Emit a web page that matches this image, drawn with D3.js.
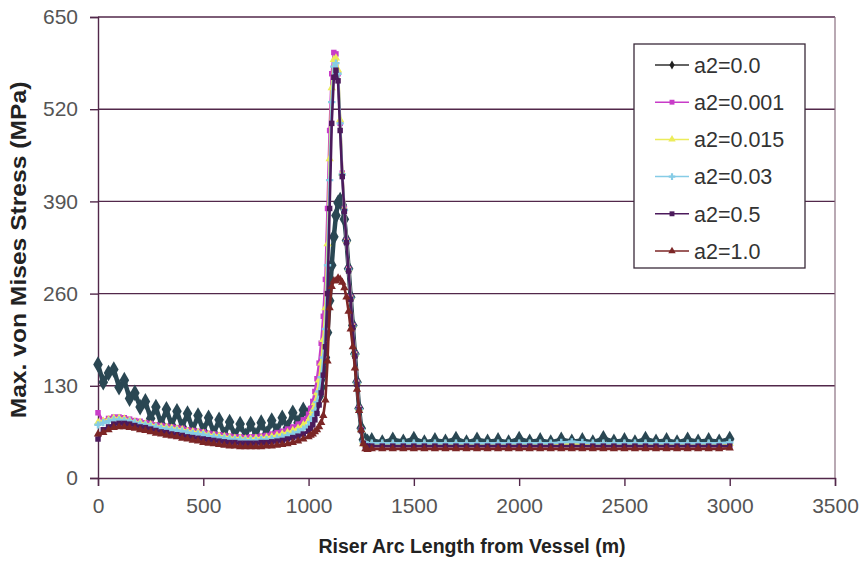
<!DOCTYPE html>
<html><head><meta charset="utf-8">
<script src="https://cdn.jsdelivr.net/npm/d3@7"></script>
<style>
html,body{margin:0;padding:0;background:#fff;}
svg{display:block;}
text{font-family:"Liberation Sans",Arial,sans-serif;}
.ttl{font-weight:bold;}
</style></head>
<body>
<svg id="chart" width="859" height="563"></svg>
<script>
// Riser arc length positions (m)
const arcLength = [
  0,25,50,75,100,125,150,175,200,225,250,275,300,325,350,375,400,425,450,475,500,525,550,575,600,625,650,675,700,725,750,775,800,825,850,875,900,925,950,975,1000,
  1010,1020,1030,1040,1050,1060,1070,1080,1090,1100,1110,1120,1130,1140,1150,1160,1170,1180,1190,1200,1210,1220,1230,1240,1250,1260,1270,1280,
  1300,1350,1400,1450,1500,1550,1600,1650,1700,1750,1800,1850,1900,1950,2000,2050,2100,2150,2200,2250,2300,2350,2400,2450,2500,2550,2600,2650,2700,2750,2800,2850,2900,2950,3000
];
const seriesNames = ["a2=0.0","a2=0.001","a2=0.015","a2=0.03","a2=0.5","a2=1.0"];
const stress_a0 = [
  160,135,148,153,128,138,112,120,100,108,84,100,76,97,74,94,72,91,68,88,66,85,63,82,61,79,59,76,59,76,60,78,62,81,66,85,71,92,78,96,90,
  92,98,100,105,115,128,145,170,205,250,300,340,370,388,392,385,365,335,295,255,215,175,135,98,70,54,53,51,
  53,50,54,51,55,50,53,51,55,50,54,51,53,50,55,51,53,50,54,51,53,50,56,51,53,50,55,51,53,50,54,51,53,51,55
];
const stress_a0001 = [
  92,80,84,86,86,85,83,81,80,78,77,75,74,73,72,71,70,68,67,66,65,63,62,61,60,59,58,58,57,58,58,59,60,62,64,66,69,72,76,82,90,
  98,108,122,140,162,190,228,280,380,490,570,600,598,570,500,430,380,335,295,255,215,175,135,98,68,50,46,46,
  47,47,47,46,47,47,47,47,46,47,47,47,47,46,47,47,47,47,46,47,47,47,47,46,47,47,47,47,46,47,47,47,47,47,48
];
const stress_a0015 = [
  78,80,82,84,84,83,81,79,78,76,75,73,72,71,70,69,68,66,65,64,63,61,60,59,58,57,56,56,55,55,56,56,57,58,60,62,64,67,70,75,81,
  87,95,106,120,138,162,195,240,330,450,550,590,592,575,505,430,380,335,295,255,215,175,135,98,68,51,47,46,
  48,48,48,48,48,48,48,48,48,48,48,48,48,48,48,48,48,48,48,48,48,48,48,48,48,48,48,48,48,48,48,48,48,48,49
];
const stress_a003 = [
  75,78,80,82,82,81,80,78,76,75,73,72,70,69,68,67,66,64,63,62,61,59,58,57,56,55,54,54,53,53,53,54,54,55,56,58,60,62,65,69,74,
  79,86,95,107,122,142,170,210,300,420,530,580,585,570,500,428,378,334,294,254,214,174,134,97,68,51,47,47,
  49,49,49,49,49,49,49,49,49,49,49,49,49,49,49,49,49,49,50,51,50,49,49,49,49,49,49,49,49,49,49,49,49,49,50
];
const stress_a05 = [
  55,68,72,76,77,77,76,74,72,71,69,67,65,64,62,61,60,58,57,56,55,54,53,52,51,50,50,49,49,49,49,50,50,51,52,53,55,57,59,62,66,
  70,75,82,91,103,120,145,185,260,380,500,565,575,560,490,425,376,332,292,252,212,172,132,96,67,49,45,45,
  45,45,45,45,45,45,45,45,45,45,45,45,45,45,45,45,45,45,45,45,45,45,45,45,45,45,45,45,45,45,45,45,45,45,45
];
const stress_a10 = [
  62,64,68,71,72,72,71,70,68,67,65,63,62,60,59,58,56,55,53,52,50,49,48,47,46,45,45,44,44,44,44,44,45,45,46,47,48,50,52,55,58,
  60,62,65,68,72,78,88,110,165,240,270,278,278,282,280,276,268,255,235,210,185,155,125,95,68,48,41,40,
  41,41,41,41,41,41,41,41,41,41,41,41,41,41,41,41,41,41,41,41,41,41,41,41,41,41,41,41,41,41,41,41,41,41,42
];
const seriesValues = [stress_a0, stress_a0001, stress_a0015, stress_a003, stress_a05, stress_a10];
const seriesColors = ["#2a4753","#c83cc8","#ecec5a","#86cce6","#4c1a5c","#7c2626"];
const xTicks = [0,500,1000,1500,2000,2500,3000,3500];
const yTicks = [0,130,260,390,520,650];

const svg = d3.select("#chart");
const L = 98, R = 835, T = 17, B = 478;
const x = d3.scaleLinear().domain([0,3500]).range([L,R]);
const y = d3.scaleLinear().domain([0,650]).range([B,T]);
const gridCol = "#52284a";

// gridlines
svg.append("g").selectAll("line").data(yTicks.filter(d=>d>0)).join("line")
  .attr("x1",L).attr("x2",R).attr("y1",d=>y(d)).attr("y2",d=>y(d))
  .attr("stroke",gridCol).attr("stroke-width",1.4);
// right border
svg.append("line").attr("x1",R).attr("x2",R).attr("y1",T).attr("y2",B)
  .attr("stroke","#8a7080").attr("stroke-width",1.2);

// axes
const xAxis = svg.append("g").attr("transform",`translate(0,${B})`)
  .call(d3.axisBottom(x).tickValues(xTicks).tickSize(8).tickPadding(12).tickFormat(d3.format("d")));
const yAxis = svg.append("g").attr("transform",`translate(${L},0)`)
  .call(d3.axisLeft(y).tickValues(yTicks).tickSize(8).tickPadding(12).tickFormat(d3.format("d")));
[xAxis,yAxis].forEach(g=>{
  g.select(".domain").attr("stroke",gridCol).attr("stroke-width",1.4);
  g.selectAll(".tick line").attr("stroke",gridCol).attr("stroke-width",1.4);
  g.selectAll(".tick text").attr("fill","#555").attr("font-size",21);
});

// series
const symbols = [d3.symbolDiamond, d3.symbolSquare, d3.symbolTriangle, d3.symbolCross, d3.symbolSquare, d3.symbolTriangle];
const line = d3.line().x(d=>x(d[0])).y(d=>y(d[1]));
seriesValues.forEach((vals,i)=>{
  const pts = arcLength.map((a,k)=>[a, vals[k]]);
  const g = svg.append("g");
  g.append("path").datum(pts).attr("d",line).attr("fill","none")
    .attr("stroke",seriesColors[i]).attr("stroke-width", i===0?4.5:2.6).attr("stroke-linejoin","round");
  g.selectAll("path.m").data(pts).join("path").attr("class","m")
    .attr("transform",d=>`translate(${x(d[0])},${y(d[1])})`)
    .attr("d",d3.symbol().type(symbols[i]).size(i===0?80:30))
    .attr("fill",seriesColors[i]);
});

// legend
const lg = svg.append("g");
lg.append("rect").attr("x",634).attr("y",44).attr("width",171).attr("height",224)
  .attr("fill","#fff").attr("stroke","#3a2a3a").attr("stroke-width",1.3);
const legendColors = ["#202020","#c83cc8","#ecec5a","#86cce6","#4c1a5c","#7c2626"];
seriesNames.forEach((n,i)=>{
  const cy = 65 + i*37.2;
  lg.append("line").attr("x1",655).attr("x2",689).attr("y1",cy).attr("y2",cy)
    .attr("stroke",i===0?"#303030":legendColors[i]).attr("stroke-width",1.5);
  lg.append("path").attr("transform",`translate(672,${cy})`)
    .attr("d",d3.symbol().type(symbols[i]).size(24)).attr("fill",legendColors[i]);
  lg.append("text").attr("x",694).attr("y",cy).attr("dy","0.36em")
    .attr("font-size",21.5).attr("fill","#333").text(n);
});

// axis titles
svg.append("text").attr("class","ttl").attr("x",472).attr("y",553)
  .attr("text-anchor","middle").attr("font-size",19.5).attr("fill","#222")
  .text("Riser Arc Length from Vessel (m)");
svg.append("text").attr("class","ttl").attr("transform","translate(26,250) scale(1,1.12) rotate(-90)")
  .attr("text-anchor","middle").attr("font-size",22).attr("fill","#222")
  .text("Max. von Mises Stress (MPa)");
</script>
</body></html>
